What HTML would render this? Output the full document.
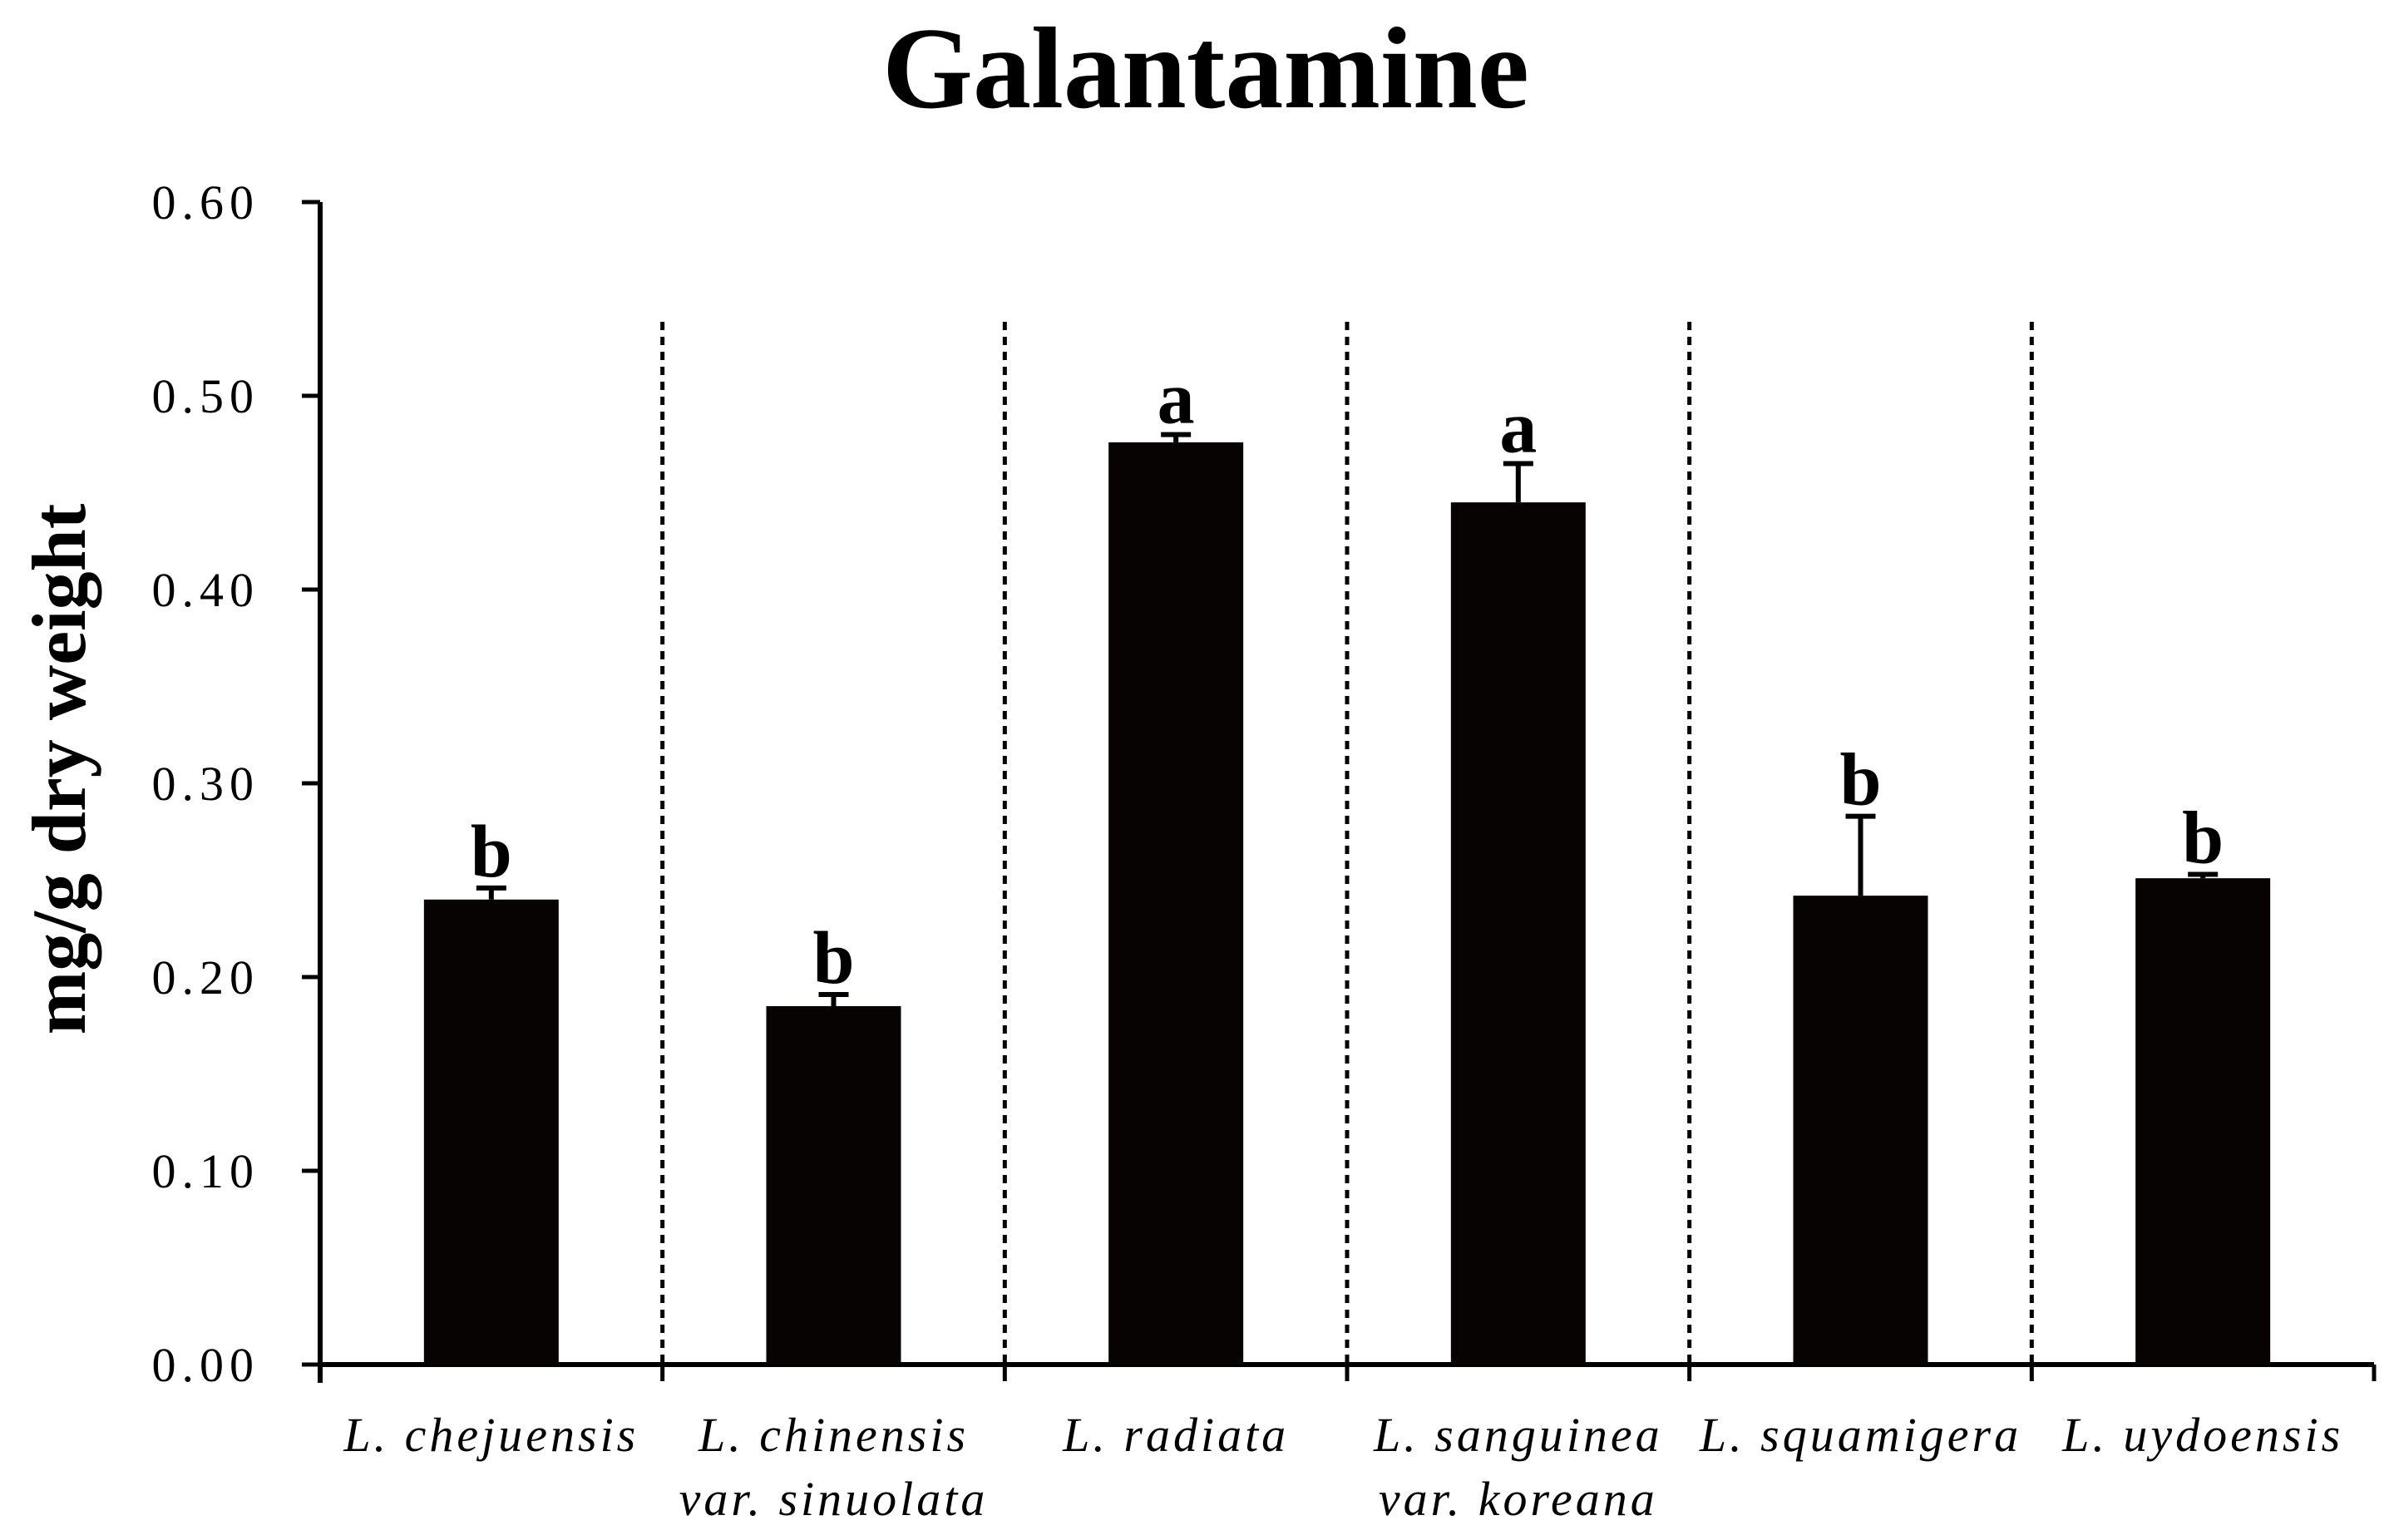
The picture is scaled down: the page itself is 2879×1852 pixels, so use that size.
<!DOCTYPE html>
<html><head><meta charset="utf-8"><style>
html,body{margin:0;padding:0;background:#fff}
svg{display:block}
text{font-family:"Liberation Serif",serif;fill:#000}
</style></head><body>
<svg id="chart" width="2879" height="1852" viewBox="0 0 2879 1852" xmlns="http://www.w3.org/2000/svg">
<text x="1450" y="129" text-anchor="middle" font-size="140" font-weight="bold">Galantamine</text>
<text transform="translate(102,925) rotate(-90)" text-anchor="middle" font-size="92" font-weight="bold">mg/g dry weight</text>
<g id="plot"></g>
</svg>
<script>
const categories1 = ["L. chejuensis","L. chinensis","L. radiata","L. sanguinea","L. squamigera","L. uydoensis"];
const categories2 = ["","var. sinuolata","","var. koreana","",""];
const values = [0.240,0.185,0.476,0.445,0.242,0.251];
const errors = [0.006,0.006,0.004,0.020,0.041,0.002];
const letters = ["b","b","a","a","b","b"];
const yTicks = [0,0.1,0.2,0.3,0.4,0.5,0.6];
const yTickLabels = ["0.00","0.10","0.20","0.30","0.40","0.50","0.60"];

const NS="http://www.w3.org/2000/svg";
const g=document.getElementById('plot');
const X0=385,X1=2855,Y0=1641,Y1=243,YMAX=0.6;
const n=categories1.length, cw=(X1-X0)/n, bw=162;
const y=v=>Y0-(v/YMAX)*(Y0-Y1);
const xc=i=>X0+cw*(i+0.5);
function mk(tag,a){const e=document.createElementNS(NS,tag);for(const k in a)e.setAttribute(k,a[k]);g.appendChild(e);return e;}

let e=mk('line',{x1:X0,y1:Y1,x2:X0,y2:Y0+22,stroke:'#000','stroke-width':6});


e=mk('line',{x1:X0-3,y1:Y0,x2:X1,y2:Y0,stroke:'#000','stroke-width':6});


yTicks.forEach((t,i)=>{
  let l=mk('line',{x1:X0-22,y1:y(t),x2:X0,y2:y(t),stroke:'#000','stroke-width':5});
  
  
  let tx=mk('text',{x:312,y:y(t)+20,'text-anchor':'end','font-size':58,'letter-spacing':7});
  tx.textContent=yTickLabels[i];
  
  
});
for(let i=0;i<=n;i++){
  const x=X0+cw*i;
  let t=mk('line',{x1:x,y1:Y0,x2:x,y2:Y0+20,stroke:'#000','stroke-width':5});
  
  
  if(i>0&&i<n){
    let d=mk('line',{x1:x,y1:387,x2:x,y2:Y0,stroke:'#000','stroke-width':5,'stroke-dasharray':'10,8'});
    
    
  }
}
values.forEach((v,i)=>{
  const cx=xc(i);
  let r=mk('rect',{x:cx-bw/2,y:y(v),width:bw,height:Y0-y(v),fill:'#070302'});
  
  
  const te=y(v+errors[i]);
  let eb=mk('path',{d:`M${cx},${y(v)}V${te}M${cx-18},${te}H${cx+18}`,stroke:'#000','stroke-width':6,fill:'none'});
  
  
  let lt=mk('text',{x:cx,y:te-14,'text-anchor':'middle','font-size':90,'font-weight':'bold'});
  lt.textContent=letters[i];
  
  
  let c1=mk('text',{x:cx,y:1745,'text-anchor':'middle','font-size':58,'font-style':'italic','letter-spacing':4});
  c1.textContent=categories1[i];
  
  
  if(categories2[i]){
    let c2=mk('text',{x:cx,y:1822,'text-anchor':'middle','font-size':58,'font-style':'italic','letter-spacing':4});
    c2.textContent=categories2[i];
    
    
  }
});
</script>
</body></html>
